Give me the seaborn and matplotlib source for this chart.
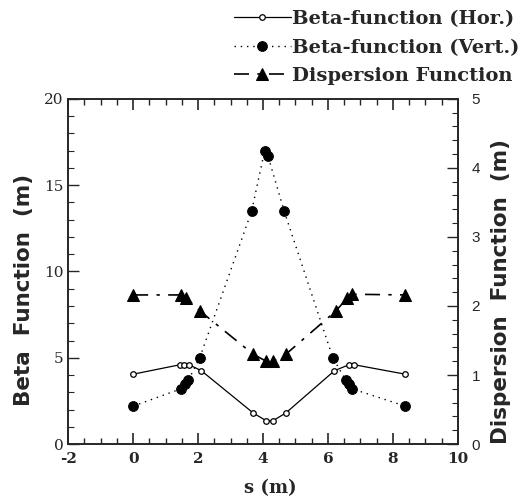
import matplotlib
matplotlib.use("Agg")
import matplotlib.pyplot as plt
from matplotlib.ticker import MultipleLocator
import seaborn as sns

# ─────────────────────────────────────────────────────────
# Data
# ─────────────────────────────────────────────────────────
s_hor = [0.0, 1.45, 1.58, 1.72, 2.1, 3.7, 4.1, 4.3, 4.7, 6.2, 6.65, 6.8, 8.38]
beta_hor = [4.05, 4.6, 4.6, 4.6, 4.25, 1.8, 1.35, 1.35, 1.8, 4.25, 4.6, 4.6, 4.05]

s_vert = [0.0, 1.47, 1.6, 1.7, 2.05, 3.65, 4.05, 4.15, 4.65, 6.15, 6.55, 6.65, 6.75, 8.38]
beta_vert = [2.2, 3.2, 3.5, 3.7, 5.0, 13.5, 17.0, 16.7, 13.5, 5.0, 3.7, 3.5, 3.2, 2.2]

s_disp = [0.0, 1.47, 1.63, 2.05, 3.7, 4.1, 4.3, 4.7, 6.25, 6.6, 6.75, 8.38]
disp = [2.16, 2.16, 2.12, 1.93, 1.3, 1.2, 1.2, 1.3, 1.93, 2.12, 2.17, 2.16]

sns.set_style("ticks")
plt.rcParams["xtick.direction"] = "in"
plt.rcParams["ytick.direction"] = "in"
plt.rcParams["axes.unicode_minus"] = False

fig = plt.figure(figsize=(5.25, 4.99), dpi=100)
ax = fig.add_axes([0.130, 0.110, 0.742, 0.692])
ax2 = ax.twinx()

sns.lineplot(x=s_hor, y=beta_hor, ax=ax, sort=False, color="black",
             linewidth=0.9, linestyle="-", marker="o", markersize=4,
             markerfacecolor="white", markeredgecolor="black",
             markeredgewidth=0.9, legend=False)
sns.lineplot(x=s_vert, y=beta_vert, ax=ax, sort=False, color="black",
             linewidth=1.0, marker="o", markersize=7,
             markeredgecolor="black", legend=False)
sns.lineplot(x=s_disp, y=disp, ax=ax2, sort=False, color="black",
             linewidth=1.2, marker="^", markersize=8.5,
             markeredgecolor="black", legend=False)
ax.lines[1].set_dashes([1, 3.5])
ax2.lines[0].set_dashes([9, 5, 2, 5])

ax.set_xlim(-2, 10)
ax.set_ylim(0, 20)
ax2.set_ylim(0, 5)

ax.xaxis.set_major_locator(MultipleLocator(2))
ax.xaxis.set_minor_locator(MultipleLocator(0.5))
ax.yaxis.set_major_locator(MultipleLocator(5))
ax.yaxis.set_minor_locator(MultipleLocator(1))
ax2.yaxis.set_major_locator(MultipleLocator(1))
ax2.yaxis.set_minor_locator(MultipleLocator(0.2))

ax.tick_params(axis="x", which="both", top=True, bottom=True)
ax.tick_params(axis="x", which="major", length=8, width=1.2, pad=6)
ax.tick_params(axis="x", which="minor", length=4, width=1.0)
ax.tick_params(axis="y", which="major", length=8, width=1.0)
ax.tick_params(axis="y", which="minor", length=4, width=0.8)
ax2.tick_params(axis="y", which="major", length=8, width=1.0, pad=10)
ax2.tick_params(axis="y", which="minor", length=4, width=0.8)

for sp in ax.spines.values():
    sp.set_linewidth(1.2)
for sp in ax2.spines.values():
    sp.set_linewidth(1.2)

for lab in ax.get_xticklabels():
    lab.set_family("DejaVu Serif")
    lab.set_fontweight("bold")
    lab.set_fontsize(11)
for lab in ax.get_yticklabels():
    lab.set_family("DejaVu Serif")
    lab.set_fontsize(11)
for lab in ax2.get_yticklabels():
    lab.set_family("Liberation Sans")
    lab.set_fontsize(11)

# axis titles placed where the reference has them
fig.text(270 / 525, 1 - 488 / 499, "s (m)", family="DejaVu Serif",
         fontweight="bold", fontsize=13, ha="center", va="center")
fig.text(24 / 525, 1 - 290 / 499, "Beta  Function  (m)", family="DejaVu Sans",
         fontweight="bold", fontsize=15.5, rotation=90, ha="center", va="center")
fig.text(501 / 525, 1 - 291 / 499, "Dispersion  Function  (m)", family="DejaVu Sans",
         fontweight="bold", fontsize=15.5, rotation=90, ha="center", va="center")

handles = [ax.lines[0], ax.lines[1], ax2.lines[0]]
labels = ["Beta-function (Hor.)", "Beta-function (Vert.)", "Dispersion Function"]
fig.legend(handles, labels, loc="upper right", bbox_to_anchor=(1.005, 0.995),
           frameon=False, handlelength=2.9, handletextpad=0.1,
           labelspacing=0.53, borderaxespad=0.0,
           prop={"family": "DejaVu Serif", "weight": "bold", "size": 14})

fig.savefig("out.png", dpi=100)
